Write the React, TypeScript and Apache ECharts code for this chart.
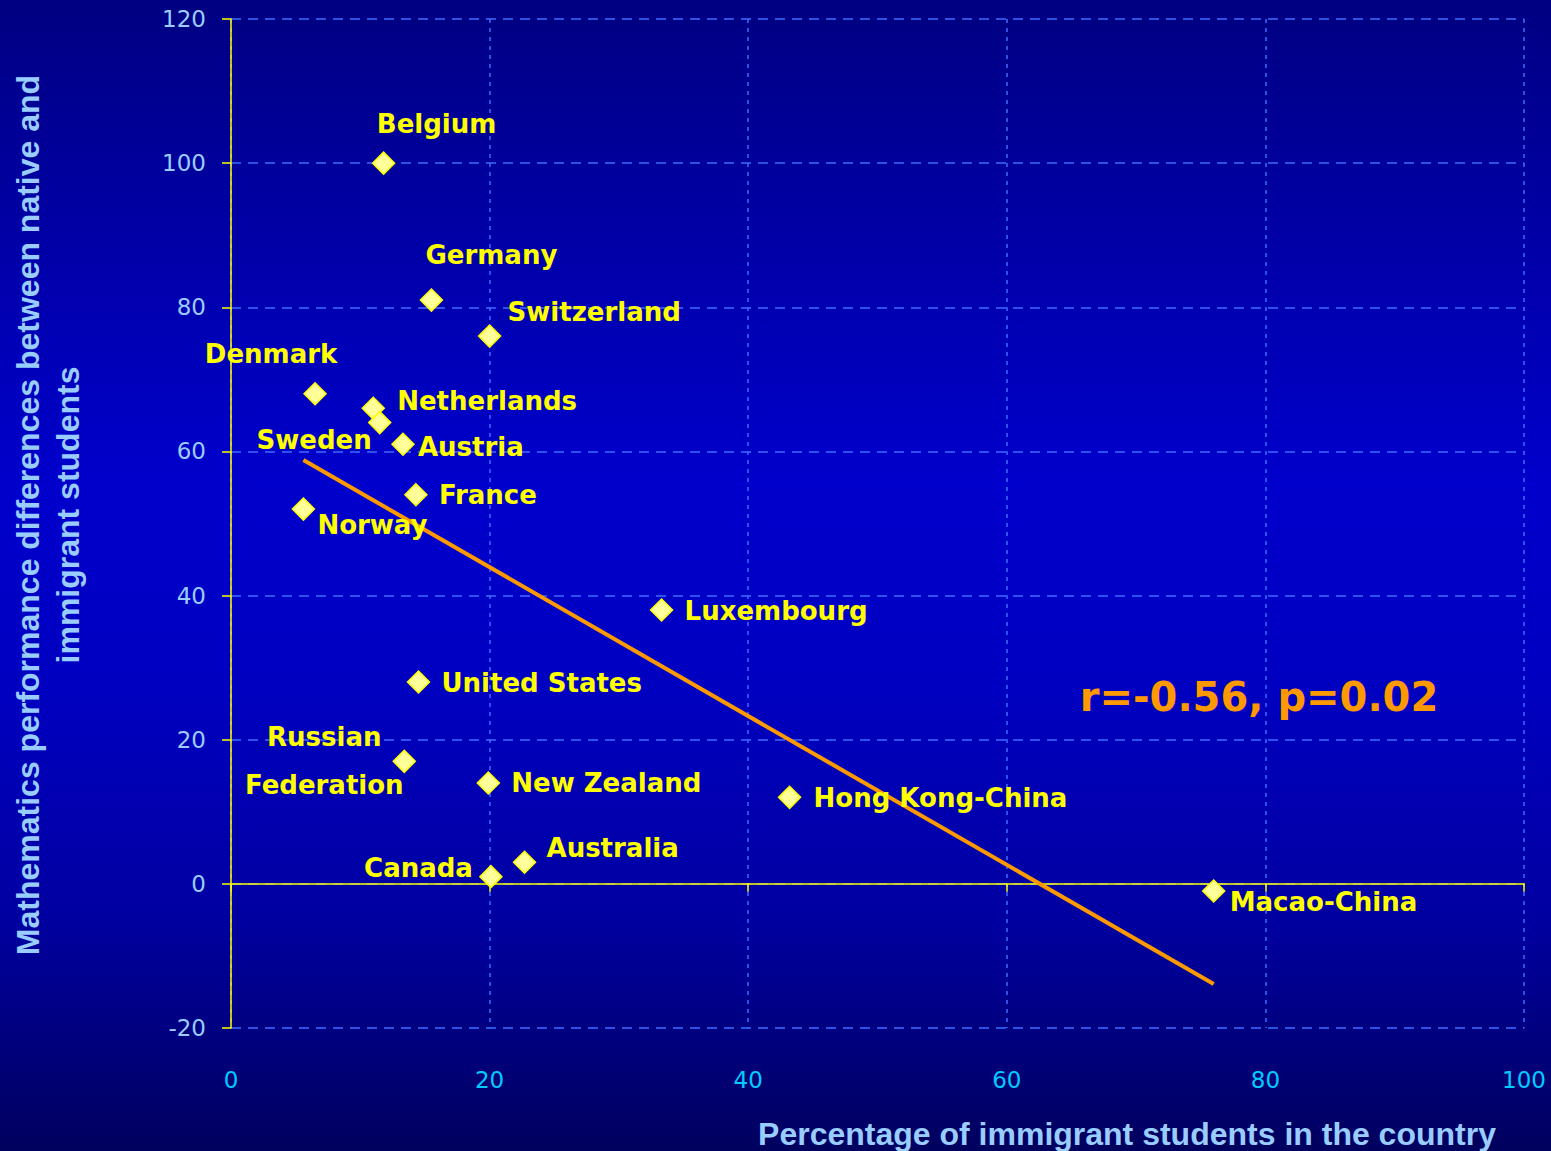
import React, { useEffect, useRef } from 'react';
import * as echarts from 'echarts';

// Countries and their values
const countries = [
  'Belgium', 'Germany', 'Switzerland', 'Denmark', 'Netherlands', 'Sweden',
  'Austria', 'France', 'Norway', 'Luxembourg', 'United States',
  'Russian Federation', 'New Zealand', 'Hong Kong-China', 'Australia',
  'Canada', 'Macao-China',
];
// Percentage of immigrant students in the country
const immigrantShare = [11.8, 15.5, 20.0, 6.5, 11.0, 11.5, 13.3, 14.3, 5.6, 33.3, 14.5, 13.4, 19.9, 43.2, 22.7, 20.1, 76.0];
// Mathematics performance gap between native and immigrant students
const mathGap = [100, 81, 76, 68, 66, 64, 61, 54, 52, 38, 28, 17, 14, 12, 3, 1, -1];

const xTickValues = [0, 20, 40, 60, 80, 100];
const yTickValues = [-20, 0, 20, 40, 60, 80, 100, 120];
const statsNote = 'r=-0.56, p=0.02';
const xTitle = 'Percentage of immigrant students in the country';
const yTitleLines = ['Mathematics performance differences between native and', 'immigrant students'];

// Where each country's name sits relative to its marker
const labelPlacement: Record<string, { align: string; dx: number; dy: number }> = {
  'Belgium': { align: 'center', dx: 53, dy: -39 },
  'Germany': { align: 'center', dx: 60, dy: -45 },
  'Switzerland': { align: 'left', dx: 18, dy: -24 },
  'Denmark': { align: 'center', dx: -44, dy: -40 },
  'Netherlands': { align: 'left', dx: 24, dy: -7 },
  'Sweden': { align: 'right', dx: -8, dy: 17 },
  'Austria': { align: 'left', dx: 15, dy: 3 },
  'France': { align: 'left', dx: 23, dy: 0 },
  'Norway': { align: 'left', dx: 14, dy: 16 },
  'Luxembourg': { align: 'left', dx: 23, dy: 1 },
  'United States': { align: 'left', dx: 23, dy: 1 },
  'Russian Federation': { align: 'center', dx: -80, dy: 0 },
  'New Zealand': { align: 'left', dx: 23, dy: 0 },
  'Hong Kong-China': { align: 'left', dx: 24, dy: 1 },
  'Australia': { align: 'left', dx: 22, dy: -14 },
  'Canada': { align: 'right', dx: -18, dy: -9 },
  'Macao-China': { align: 'left', dx: 16, dy: 11 },
};

// Least-squares fit of the gap on the immigrant share
function fitLine(xs: number[], ys: number[]) {
  const n = xs.length;
  const mx = xs.reduce((a, b) => a + b, 0) / n;
  const my = ys.reduce((a, b) => a + b, 0) / n;
  let sxy = 0;
  let sxx = 0;
  for (let i = 0; i < n; i++) {
    sxy += (xs[i] - mx) * (ys[i] - my);
    sxx += (xs[i] - mx) * (xs[i] - mx);
  }
  const slope = sxy / sxx;
  const intercept = my - slope * mx;
  const x0 = Math.min(...xs);
  const x1 = Math.max(...xs);
  return [[x0, intercept + slope * x0], [x1, intercept + slope * x1]];
}

const labelFont = 'DejaVu Sans';
const titleFont = 'Liberation Sans';

export default function App() {
  const ref = useRef<HTMLDivElement>(null);

  useEffect(() => {
    if (!ref.current) return;
    const chart = echarts.init(ref.current, null, { renderer: 'svg' });

    const points = countries.map((name, i) => {
      const p = labelPlacement[name];
      return {
        name,
        value: [immigrantShare[i], mathGap[i]],
        label: {
          align: p.align,
          offset: [p.dx, p.dy],
        },
      };
    });

    const gridColor = '#3d6cff';

    chart.setOption({
      animation: false,
      backgroundColor: {
        type: 'linear',
        x: 0, y: 0, x2: 0, y2: 1,
        colorStops: [
          { offset: 0, color: '#000082' },
          { offset: 0.42, color: '#0000cc' },
          { offset: 0.6, color: '#0000c0' },
          { offset: 0.8, color: '#0000a0' },
          { offset: 1, color: '#00005e' },
        ],
      },
      grid: { left: 231, right: 27, top: 19, bottom: 123 },
      xAxis: [
        {
          type: 'value',
          position: 'bottom',
          min: xTickValues[0],
          max: xTickValues[xTickValues.length - 1],
          interval: 20,
          axisLine: { show: false, onZero: false },
          axisTick: { show: false },
          axisLabel: {
            color: '#00ccff',
            fontSize: 23,
            fontFamily: labelFont,
            margin: 40,
          },
          splitLine: {
            show: true,
            lineStyle: { color: gridColor, width: 1.5, type: [4, 5] },
          },
        },
        {
          type: 'value',
          position: 'bottom',
          min: xTickValues[0],
          max: xTickValues[xTickValues.length - 1],
          interval: 20,
          axisLine: { show: true, onZero: true, lineStyle: { color: '#ffff00', width: 1.5 } },
          axisTick: { show: true, length: 8, lineStyle: { color: '#ffff00', width: 1.5 } },
          axisLabel: { show: false },
          splitLine: { show: false },
        },
      ],
      yAxis: {
        type: 'value',
        min: yTickValues[0],
        max: yTickValues[yTickValues.length - 1],
        interval: 20,
        axisLine: { show: true, onZero: false, lineStyle: { color: '#ffff00', width: 1.5 } },
        axisTick: { show: true, length: 9, lineStyle: { color: '#ffff00', width: 1.5 } },
        axisLabel: {
          color: '#99ccff',
          fontSize: 23,
          fontFamily: labelFont,
          margin: 25,
        },
        splitLine: {
          show: true,
          lineStyle: { color: gridColor, width: 1.5, type: [10, 7] },
        },
      },
      series: [
        {
          type: 'line',
          xAxisIndex: 0,
          data: fitLine(immigrantShare, mathGap),
          symbol: 'none',
          lineStyle: { color: '#ff9900', width: 4 },
          z: 2,
          silent: true,
        },
        {
          type: 'scatter',
          xAxisIndex: 0,
          data: points,
          symbol: 'diamond',
          symbolSize: 22,
          itemStyle: { color: '#ffff99', borderColor: '#ffff00', borderWidth: 1.5, opacity: 1 },
          z: 3,
          label: {
            show: true,
            position: 'inside',
            verticalAlign: 'middle',
            color: '#ffff00',
            fontSize: 26,
            fontWeight: 'bold',
            fontFamily: labelFont,
            lineHeight: 48,
            formatter: (p: any) => (p.name === 'Russian Federation' ? 'Russian\nFederation' : p.name),
          },
        },
      ],
      graphic: [
        {
          type: 'text',
          x: 1259,
          y: 697,
          style: {
            text: statsNote,
            fill: '#ff9900',
            fontSize: 40,
            fontWeight: 'bold',
            fontFamily: labelFont,
            textAlign: 'center',
            textVerticalAlign: 'middle',
          },
        },
        {
          type: 'text',
          x: 1127,
          y: 1134,
          style: {
            text: xTitle,
            fill: '#99ccff',
            fontSize: 32,
            fontWeight: 'bold',
            fontFamily: titleFont,
            textAlign: 'center',
            textVerticalAlign: 'middle',
          },
        },
        {
          type: 'text',
          x: 48,
          y: 515,
          rotation: Math.PI / 2,
          style: {
            text: yTitleLines.join('\n'),
            fill: '#99ccff',
            fontSize: 32,
            fontWeight: 'bold',
            fontFamily: titleFont,
            lineHeight: 40,
            textAlign: 'center',
            textVerticalAlign: 'middle',
          },
        },
      ],
    });

    return () => chart.dispose();
  }, []);

  return (
    <div
      ref={ref}
      style={{ position: 'fixed', left: 0, top: 0, width: 1551, height: 1151 }}
    />
  );
}
